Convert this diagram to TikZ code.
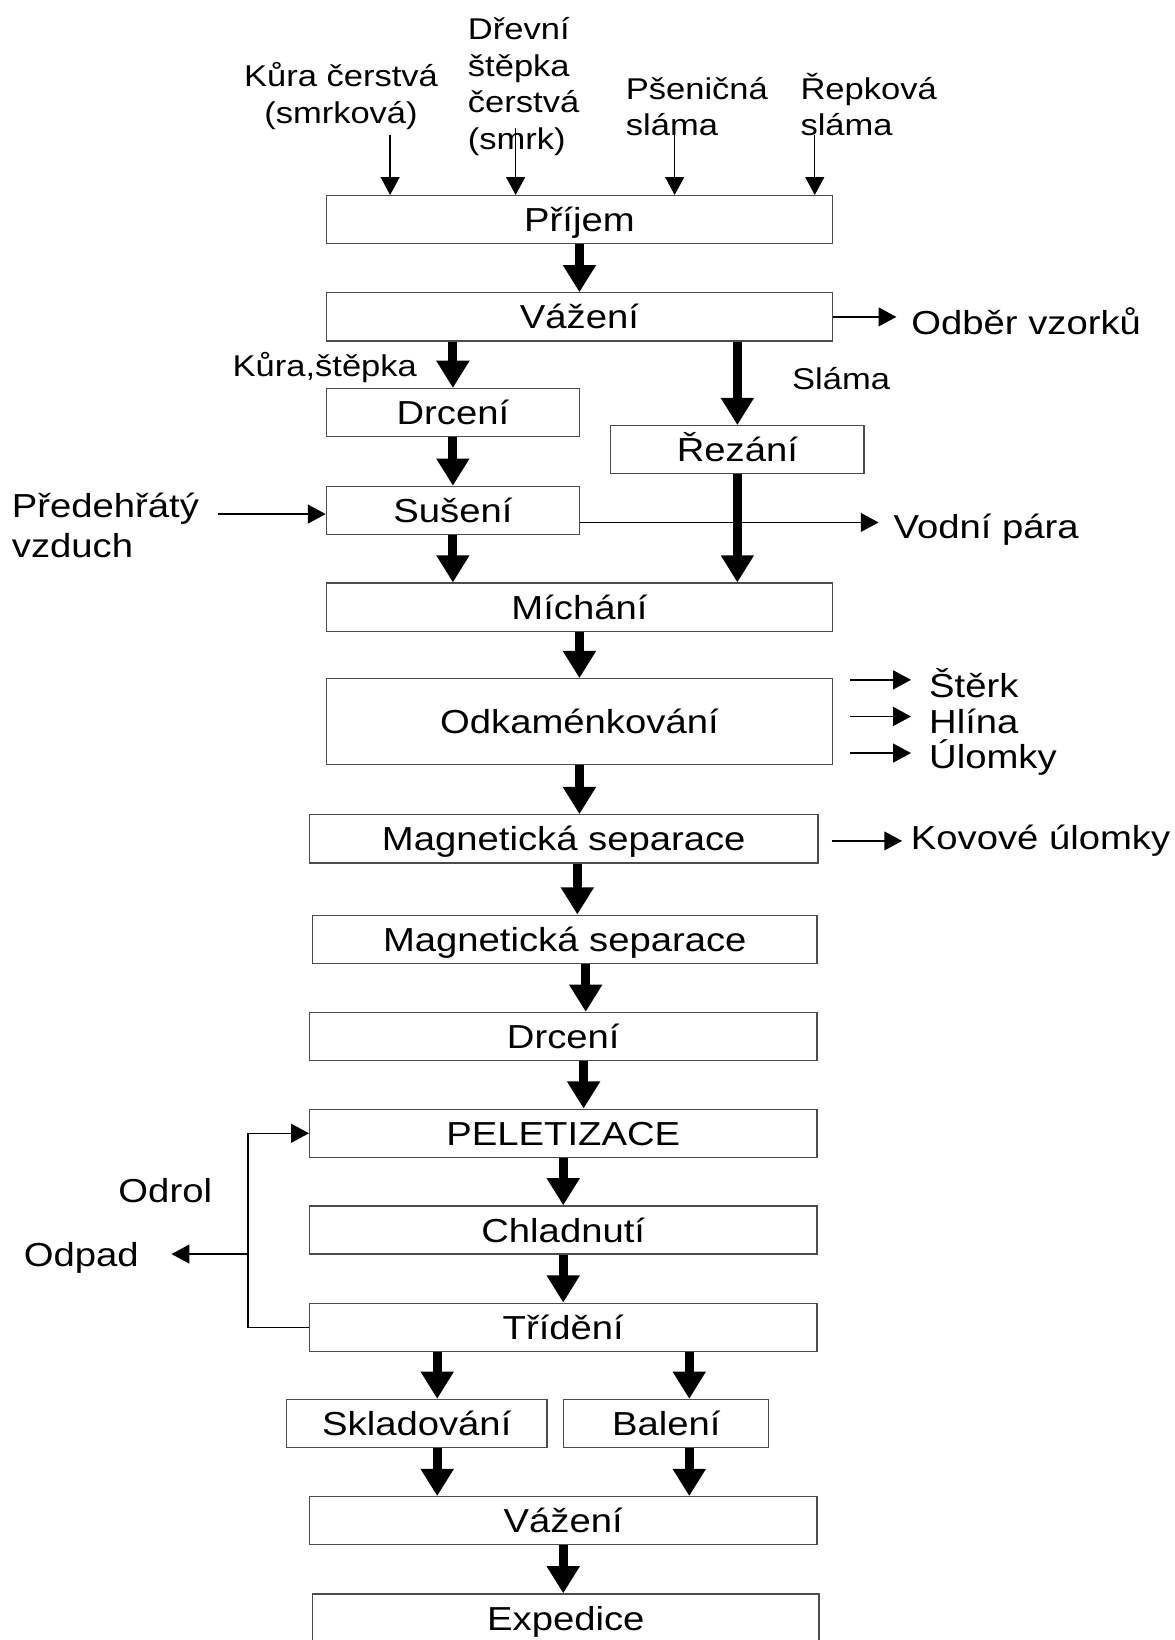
\documentclass[tikz,border=0pt]{standalone}
\usepackage{fontspec}
\setmainfont{Liberation Sans}[FakeStretch=1.15]
\usepackage{tikz}
\usetikzlibrary{positioning,arrows.meta,calc}
\newcommand\boxfont{\fontsize{15.9pt}{19.1pt}\selectfont}
\newcommand\feedfont{\fontsize{14.35pt}{17.5pt}\selectfont}
\tikzset{
  stage/.style={draw=black!70, line width=0.6pt, fill=white, inner sep=0pt, minimum height=23pt, text height=15.5pt, text depth=4pt, font=\boxfont},
  side/.style={inner sep=0pt, font=\boxfont, align=left},
  feed/.style={inner sep=0pt, font=\feedfont, align=left},
  flow/.style={-{Triangle[length=13pt,width=15pt]}, line width=4.3pt},
  thinarr/.style={-{Triangle[length=8.5pt,width=9pt]}, line width=0.65pt},
}

\begin{document}
\begin{tikzpicture}[x=0.5pt,y=-0.5pt]
    \path[use as bounding box, fill=white] (0,0) rectangle (1123,1568);
    \node[stage, minimum width=242pt] (prijem) at (554,210) {Příjem};
    \node[stage, minimum width=242pt] (vazeni) at (554,303) {Vážení};
    \node[stage, minimum width=121pt] (drceni) at (433,394.5) {Drcení};
    \node[stage, minimum width=121pt] (rezani) at (705,430) {Řezání};
    \node[stage, minimum width=121pt] (suseni) at (433,488) {Sušení};
    \node[stage, minimum width=242pt] (michani) at (554,580.5) {Míchání};
    \node[stage, minimum width=242pt, minimum height=41pt] (odkam) at (554,690) {Odkaménkování};
    \node[stage, minimum width=243pt] (mag1) at (539,802) {Magnetická separace};
    \node[stage, minimum width=241pt] (mag2) at (540,898) {Magnetická separace};
    \node[stage, minimum width=242.5pt] (drceni2) at (538.5,991) {Drcení};
    \node[stage, minimum width=242.5pt] (pelet) at (538.5,1083.5) {PELETIZACE};
    \node[stage, minimum width=242.5pt] (chlad) at (538.5,1176) {Chladnutí};
    \node[stage, minimum width=242.5pt] (tridi) at (538.5,1269) {Třídění};
    \node[stage, minimum width=124.5pt] (sklad) at (398.5,1361) {Skladování};
    \node[stage, minimum width=98pt] (baleni) at (637,1361) {Balení};
    \node[stage, minimum width=242.5pt] (vazeni2) at (538.5,1454) {Vážení};
    \node[stage, minimum width=242pt] (exped) at (541,1547) {Expedice};

    \node[feed, align=center, anchor=base] (kura) at (326,118) {Kůra čerstvá\\(smrková)};
    \node[feed, anchor=base west] (drevni) at (447,143) {Dřevní\\štěpka\\čerstvá\\(smrk)};
    \node[feed, anchor=base west] (psen) at (598,130) {Pšeničná\\sláma};
    \node[feed, anchor=base west] (repka) at (765,130) {Řepková\\sláma};
    \node[feed, anchor=base east] (kurastep) at (399,360) {Kůra,štěpka};
    \node[feed, anchor=base west] (slama) at (757,372) {Sláma};
    \node[side, anchor=base west, inner xsep=7pt] (odber) at (857,320) {Odběr vzorků};
    \node[side, anchor=base west] (predeh) at (11,533) {Předehřátý\\vzduch};
    \node[side, anchor=base west, inner xsep=7pt] (voda) at (840,515) {Vodní pára};
    \node[side, anchor=base west, inner xsep=8.5pt] (sterk) at (871,667) {Štěrk};
    \node[side, anchor=base west, inner xsep=8.5pt] (hlina) at (871,701) {Hlína};
    \node[side, anchor=base west, inner xsep=8.5pt] (ulomky) at (871,735) {Úlomky};
    \node[side, anchor=base west, inner xsep=4pt] (kovove) at (862.5,812) {Kovové úlomky};
    \node[side, anchor=base] (odrol) at (158,1150) {Odrol};
    \node[side, anchor=base east, inner xsep=15.5pt] (odpad) at (164,1210.5) {Odpad};

    \coordinate (in1) at (373,129);
    \coordinate (in2) at (493,122);
    \coordinate (in3) at (645,122);
    \coordinate (in4) at (779,129);
    \coordinate (predin) at (208,491.5);
    \coordinate (susout) at ($(suseni.east)+(0,11.5)$);
    \coordinate (out1) at (813,650);
    \coordinate (out2) at (813,685);
    \coordinate (out3) at (813,720);
    \coordinate (out4) at (795,804);
    \coordinate (split) at (237,1199);

    \draw[thinarr] (in1) -- (in1 |- prijem.north);
    \draw[thinarr] (in2) -- (in2 |- prijem.north);
    \draw[thinarr] (in3) -- (in3 |- prijem.north);
    \draw[thinarr] (in4) -- (in4 |- prijem.north);

    \draw[flow] (prijem) -- (vazeni);
    \draw[flow] (vazeni.south -| drceni) -- (drceni);
    \draw[flow] (vazeni.south -| rezani) -- (rezani);
    \draw[flow] (drceni) -- (suseni);
    \draw[flow] (suseni) -- (suseni |- michani.north);
    \draw[flow] (rezani) -- (rezani |- michani.north);
    \draw[flow] (michani) -- (odkam);
    \draw[flow] (odkam) -- (odkam |- mag1.north);
    \draw[flow] ($(mag1.south)+(13,0)$) -- ($(mag2.north)+(12,0)$);
    \draw[flow] ($(mag2.south)+(20,0)$) -- ($(drceni2.north)+(21.5,0)$);
    \draw[flow] ($(drceni2.south)+(19.5,0)$) -- ($(pelet.north)+(19.5,0)$);
    \draw[flow] (pelet) -- (chlad);
    \draw[flow] (chlad) -- (tridi);
    \draw[flow] ($(tridi.south -| sklad)+(19.5,0)$) -- ($(sklad.north)+(19.5,0)$);
    \draw[flow] ($(tridi.south -| baleni)+(22,0)$) -- ($(baleni.north)+(22,0)$);
    \draw[flow] ($(sklad.south)+(19.5,0)$) -- ($(vazeni2.north -| sklad)+(19.5,0)$);
    \draw[flow] ($(baleni.south)+(22,0)$) -- ($(vazeni2.north -| baleni)+(22,0)$);
    \draw[flow] (vazeni2) -- (vazeni2 |- exped.north);

    \draw[thinarr] (vazeni.east) -- (vazeni.east -| odber.west);
    \draw[thinarr] (predin) -- (predin -| suseni.west);
    \draw[thinarr] (susout) -- (susout -| voda.west);
    \draw[thinarr] (out1) -- (out1 -| sterk.west);
    \draw[thinarr] (out2) -- (out2 -| hlina.west);
    \draw[thinarr] (out3) -- (out3 -| ulomky.west);
    \draw[thinarr] (out4) -- (out4 -| kovove.west);
    \draw[thinarr] (tridi.west) -| (split) |- (pelet.west);
    \draw[thinarr] (split) -- (split -| odpad.east);
  \end{tikzpicture}
\end{document}
